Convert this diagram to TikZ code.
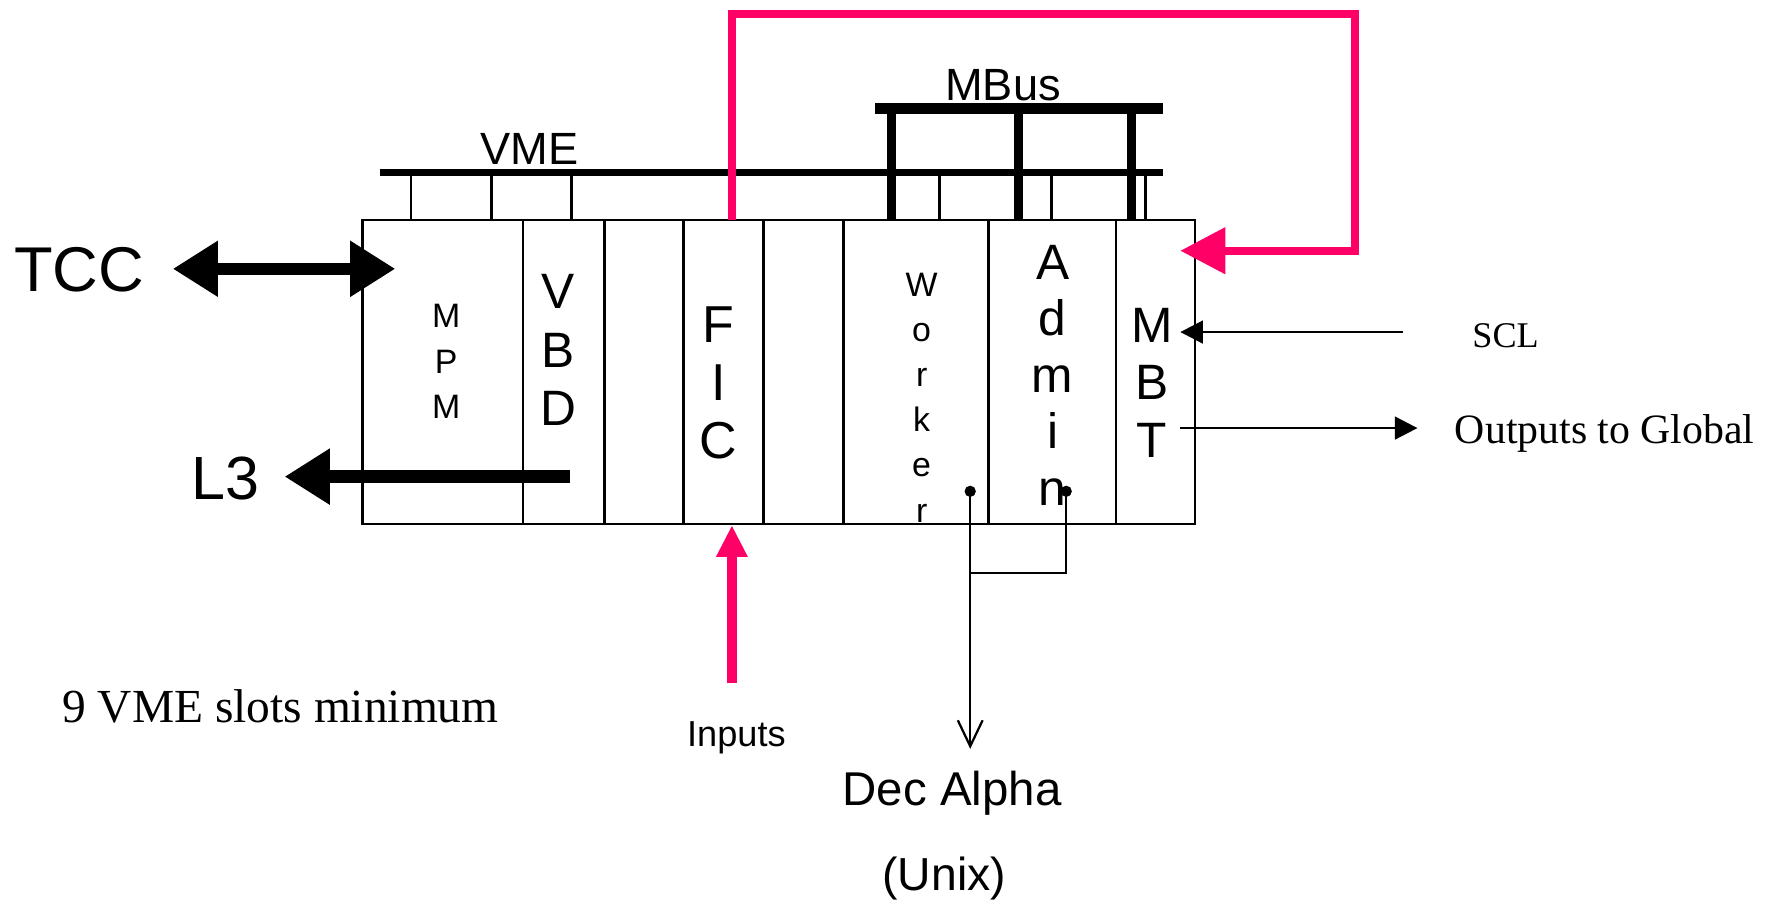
\documentclass[tikz,border=0pt]{standalone}
\usepackage{fontspec}
\setmainfont{Liberation Serif}
\newfontfamily\arialf{Liberation Sans}
\usetikzlibrary{arrows.meta}
\definecolor{pinkred}{RGB}{255,0,102}
\newcommand{\fsz}[2]{\fontsize{#1}{#2}\selectfont}
\begin{document}
\begin{tikzpicture}[x=1pt,y=-1pt,
  boxline/.style={line width=2.2pt},
  stub/.style={line width=2.2pt},
  vmebus/.style={line width=6pt},
  mbusline/.style={line width=9pt},
  mbusstub/.style={line width=8pt},
  bigarrow/.style={line width=11pt,-{Triangle[length=40pt,width=47pt]}},
  pinkline/.style={pinkred,line width=7pt,line join=miter},
  thinarrow/.style={line width=2.5pt,-{Triangle[length=20pt,width=20pt]}},
  wire/.style={line width=2pt},
  lbl/.style={inner sep=0pt,align=center},
  dot/.style={circle,fill=black,inner sep=0pt,minimum size=10pt}
]
\useasboundingbox (0,0) rectangle (1568,799);
% crate
\draw[boxline] (321,195) rectangle (1058,464);
\foreach \x in {463,535,605,676,747,875,988}
  \draw[boxline] (\x,195) -- (\x,464);
% VME bus
\draw[vmebus] (336,153) -- (1030,153);
\foreach \x in {364,435,506,832,931,1014}
  \draw[stub] (\x,153) -- (\x,195);
% MBus
\draw[mbusline] (775,96) -- (1030,96);
\foreach \x in {789,902,1002}
  \draw[mbusstub] (\x,96) -- (\x,195);
\node[lbl,font=\arialf\fsz{40}{40}] (vme) at (469,132) {VME};
\node[lbl,font=\arialf\fsz{40}{40}] (mbus) at (888,75) {MBus};
% slot labels
\node[lbl,font=\arialf\fsz{30}{40}] (mpm) at (395,320) {M\\P\\M};
\node[lbl,font=\arialf\fsz{44}{52}] (vbd) at (494,310) {V\\B\\D};
\node[lbl,font=\arialf\fsz{46}{51}] (fic) at (636,339) {F\\I\\C};
\node[lbl,font=\arialf\fsz{30}{40}] (worker) at (816,352) {W\\o\\r\\k\\e\\r};
\node[lbl,font=\arialf\fsz{44}{50}] (admin) at (932,332) {A\\d\\m\\i\\n};
\node[lbl,font=\arialf\fsz{44}{51}] (mbt) at (1020,339) {M\\B\\T};
% TCC and L3
\node[lbl,font=\arialf\fsz{56}{56}] (tcc) at (70,239) {TCC};
\node[lbl,font=\arialf\fsz{54}{54}] (l3) at (200,424) {L3};
\coordinate (tccA) at (153,238);
\coordinate (tccB) at (350,238);
\draw[bigarrow,{Triangle[length=40pt,width=47pt]}-{Triangle[length=40pt,width=47pt]}] (tccA) -- (tccB);
\coordinate (vbdOut) at (505,422);
\coordinate (l3In) at (252,422);
\draw[bigarrow] (vbdOut) -- (l3In);
% pink FIC loop
\coordinate (ficTop) at (648,195);
\coordinate (mbtIn) at (1045,222);
\draw[pinkline,-{Triangle[length=40pt,width=40pt]}] (ficTop) -- (648,12) -- (1200,12) -- (1200,222) -- (mbtIn);
\coordinate (inStart) at (648,605);
\coordinate (ficBot) at (648,465);
\draw[pinkred,line width=9pt,-{Triangle[length=28pt,width=26pt]}] (inStart) -- (ficBot);
\node[lbl,font=\arialf\fsz{32}{32},anchor=base] (inputs) at (652,661) {Inputs};
% SCL and outputs
\node[lbl,font=\fsz{32}{32}] (scl) at (1333,297) {SCL};
\coordinate (sclStart) at (1242,294);
\coordinate (mbtSCL) at (1045,294);
\draw[thinarrow] (sclStart) -- (mbtSCL);
\node[lbl,font=\fsz{37}{37},anchor=base west] (outg) at (1288,393) {Outputs to Global};
\coordinate (mbtOut) at (1045,379);
\coordinate (outEnd) at (1255,379);
\draw[thinarrow] (mbtOut) -- (outEnd);
% Dec Alpha links
\node[dot] (wdot) at (859,435) {};
\node[dot] (adot) at (944,435) {};
\coordinate (join) at (859,507);
\coordinate (decIn) at (859,663);
\draw[wire] (adot.center) -- (944,507) -- (join);
\draw[wire,-{Straight Barb[length=23pt,width=22pt,line width=2pt]}] (wdot.center) -- (decIn);
\node[lbl,font=\arialf\fsz{42}{42},anchor=base] (dec) at (843,713) {Dec Alpha};
\node[lbl,font=\arialf\fsz{41}{41},anchor=base] (unix) at (836,788) {(Unix)};
\node[lbl,font=\fsz{42}{42},anchor=base west] (slots) at (55,640) {9 VME slots minimum};
\end{tikzpicture}
\end{document}
